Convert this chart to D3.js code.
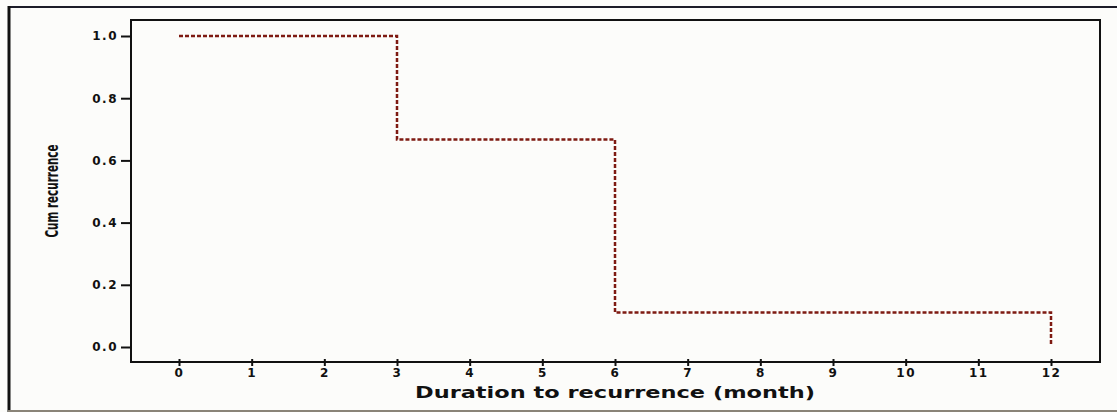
<!DOCTYPE html>
<html>
<head>
<meta charset="utf-8">
<script src="https://cdn.jsdelivr.net/npm/d3@7"></script>
<style>
  body { margin: 0; background: #fcfcfa; }
  svg { display: block; }
</style>
</head>
<body>
<svg id="chart" width="1117" height="412"></svg>
<script>
// step data (month, cum recurrence)
var stepMonths = [0, 3, 6, 12];
var stepValues = [1.0, 0.667, 0.111, 0.01];
var xTicks = [0, 1, 2, 3, 4, 5, 6, 7, 8, 9, 10, 11, 12];
var yTicks = [0.0, 0.2, 0.4, 0.6, 0.8, 1.0];

var frame = {left: 131, top: 20, right: 1100, bottom: 362};

var svg = d3.select("#chart");

var x = d3.scaleLinear().domain([0, 12]).range([179, 1051]);
var y = d3.scaleLinear().domain([0, 1]).range([347, 36]);

// outer border of the figure
svg.append("line").attr("x1", 8).attr("x2", 1117).attr("y1", 7).attr("y2", 7)
    .style("stroke", "#1c1c28").style("stroke-width", 2);
svg.append("line").attr("x1", 9).attr("x2", 9).attr("y1", 6).attr("y2", 412)
    .style("stroke", "#111").style("stroke-width", 3);
svg.append("line").attr("x1", 8).attr("x2", 1117).attr("y1", 411).attr("y2", 411)
    .style("stroke", "#8a8478").style("stroke-width", 2);

// plot frame
svg.append("rect")
    .attr("x", frame.left).attr("y", frame.top)
    .attr("width", frame.right - frame.left)
    .attr("height", frame.bottom - frame.top)
    .style("fill", "none").style("stroke", "#111").style("stroke-width", 2);

// y axis
var yAxis = svg.append("g")
    .attr("transform", "translate(" + frame.left + ",0)")
    .call(d3.axisLeft(y).tickValues(yTicks).tickFormat(d3.format(".1f")).tickSize(10).tickPadding(3));
yAxis.select(".domain").remove();
yAxis.selectAll("line").style("stroke", "#111").style("stroke-width", 2);
yAxis.selectAll("text")
    .style("font-family", "DejaVu Sans").style("font-weight", "bold")
    .style("font-size", "12px").style("letter-spacing", "1.5px").style("fill", "#111");

// x axis
var xAxis = svg.append("g")
    .attr("transform", "translate(0," + frame.bottom + ")")
    .call(d3.axisBottom(x).tickValues(xTicks).tickFormat(d3.format("d")).tickSize(4).tickPadding(2));
xAxis.select(".domain").remove();
xAxis.selectAll("line").attr("y1", -3).style("stroke", "#111").style("stroke-width", 2);
xAxis.selectAll("text")
    .style("font-family", "DejaVu Sans").style("font-weight", "bold")
    .style("font-size", "12px").style("letter-spacing", "1.5px").style("fill", "#111");

// axis titles
svg.append("text")
    .attr("x", 615).attr("y", 398)
    .attr("text-anchor", "middle")
    .attr("textLength", 400)
    .attr("lengthAdjust", "spacingAndGlyphs")
    .style("font-family", "DejaVu Sans").style("font-weight", "bold")
    .style("font-size", "15px").style("fill", "#111")
    .text("Duration to recurrence (month)");

svg.append("text")
    .attr("transform", "translate(58,191) rotate(-90)")
    .attr("text-anchor", "middle")
    .attr("textLength", 93)
    .attr("lengthAdjust", "spacingAndGlyphs")
    .style("font-family", "DejaVu Sans Condensed, DejaVu Sans").style("font-weight", "bold")
    .style("font-size", "18px").style("fill", "#111")
    .text("Cum recurrence");

// step curve
var points = stepMonths.map(function(m, i) { return [m, stepValues[i]]; });
var line = d3.line()
    .x(function(d) { return x(d[0]); })
    .y(function(d) { return y(d[1]); })
    .curve(d3.curveStepAfter);

svg.append("path")
    .datum(points)
    .attr("d", line)
    .style("fill", "none")
    .style("stroke", "#7e1a12")
    .style("stroke-width", 2.5)
    .style("stroke-dasharray", "4,2");
</script>
</body>
</html>
